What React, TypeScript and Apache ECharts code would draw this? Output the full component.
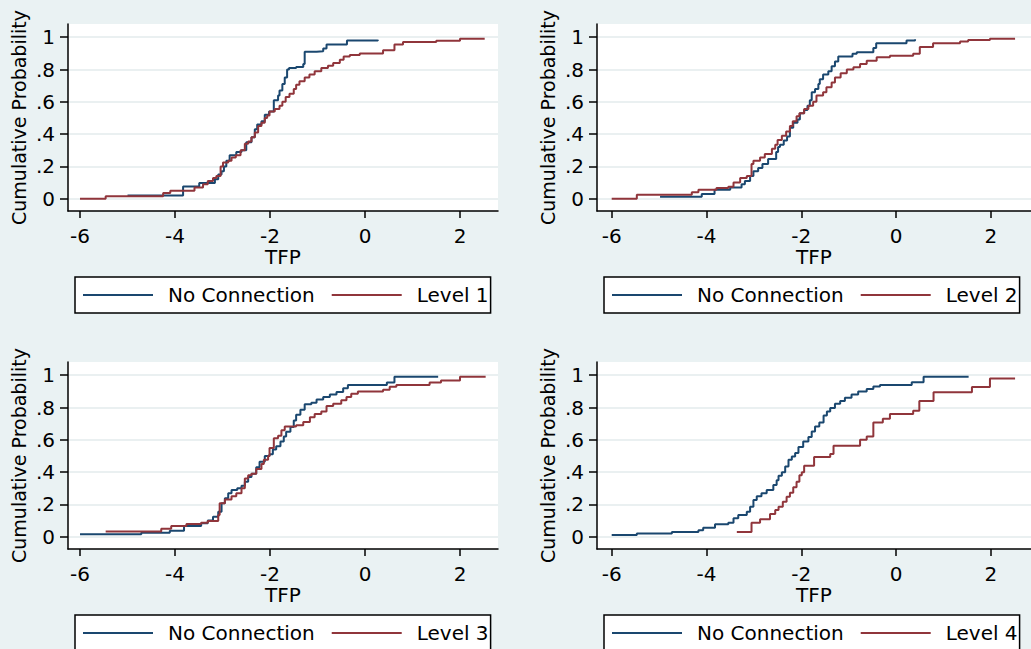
import React, { useEffect, useRef } from "react";
import * as echarts from "echarts";

// ---- data ----
const xTickValues = [-6, -4, -2, 0, 2];
const yTickValues = [0, 0.2, 0.4, 0.6, 0.8, 1];
const yTickLabels = ["0", ".2", ".4", ".6", ".8", "1"];
const baseName = "No Connection";
const levelNames = ["Level 1", "Level 2", "Level 3", "Level 4"];

// step points: [TFP where the CDF jumps, new cumulative probability]
const p1NoConnection = [
  [-5.0, 0.02], [-3.83, 0.076], [-3.49, 0.097], [-3.16, 0.12], [-3.09, 0.15], [-3.02, 0.17],
  [-2.97, 0.2], [-2.92, 0.235], [-2.85, 0.27], [-2.71, 0.29], [-2.6, 0.3], [-2.5, 0.35],
  [-2.39, 0.38], [-2.32, 0.43], [-2.27, 0.46], [-2.18, 0.48], [-2.11, 0.52], [-2.02, 0.54],
  [-1.92, 0.61], [-1.83, 0.64], [-1.8, 0.67], [-1.74, 0.71], [-1.69, 0.75], [-1.64, 0.8],
  [-1.6, 0.81], [-1.45, 0.815], [-1.3, 0.835], [-1.27, 0.91], [-1.02, 0.913], [-0.88, 0.93],
  [-0.81, 0.955], [-0.38, 0.98], [0.27, 0.985],
];
const p1Level = [
  [-6, 0], [-5.46, 0.015], [-4.25, 0.035], [-4.1, 0.05], [-3.59, 0.07], [-3.41, 0.09],
  [-3.31, 0.11], [-3.2, 0.128], [-3.13, 0.14], [-3.04, 0.2], [-2.99, 0.225], [-2.88, 0.235],
  [-2.81, 0.256], [-2.72, 0.27], [-2.62, 0.3], [-2.53, 0.34], [-2.46, 0.355], [-2.39, 0.38],
  [-2.32, 0.41], [-2.25, 0.45], [-2.18, 0.47], [-2.11, 0.5], [-2.06, 0.515], [-2.01, 0.54],
  [-1.9, 0.556], [-1.8, 0.576], [-1.74, 0.6], [-1.67, 0.63], [-1.59, 0.65], [-1.5, 0.68],
  [-1.45, 0.706], [-1.38, 0.727], [-1.27, 0.75], [-1.17, 0.77], [-1.06, 0.79], [-0.92, 0.81],
  [-0.78, 0.824], [-0.67, 0.84], [-0.53, 0.86], [-0.45, 0.88], [-0.32, 0.89], [-0.11, 0.9],
  [0.38, 0.92], [0.62, 0.955], [0.8, 0.97], [1.5, 0.978], [2.0, 0.99], [2.52, 0.99],
];
const p2NoConnection = [
  [-4.98, 0.012], [-4.1, 0.03], [-3.83, 0.056], [-3.5, 0.07], [-3.26, 0.09], [-3.19, 0.11],
  [-3.08, 0.14], [-3.01, 0.17], [-2.91, 0.19], [-2.82, 0.215], [-2.7, 0.246], [-2.53, 0.29],
  [-2.49, 0.32], [-2.45, 0.335], [-2.37, 0.36], [-2.3, 0.385], [-2.24, 0.44], [-2.17, 0.47],
  [-2.08, 0.49], [-2.03, 0.53], [-1.94, 0.55], [-1.87, 0.576], [-1.82, 0.61], [-1.78, 0.66],
  [-1.71, 0.68], [-1.64, 0.71], [-1.61, 0.74], [-1.54, 0.77], [-1.43, 0.79], [-1.36, 0.82],
  [-1.29, 0.85], [-1.22, 0.88], [-0.92, 0.897], [-0.83, 0.907], [-0.48, 0.934], [-0.42, 0.963],
  [0.22, 0.98], [0.4, 0.988],
];
const p2Level = [
  [-6, 0], [-5.47, 0.025], [-4.31, 0.04], [-4.17, 0.056], [-3.79, 0.066], [-3.54, 0.074],
  [-3.43, 0.1], [-3.29, 0.128], [-3.15, 0.14], [-3.05, 0.215], [-3.01, 0.235], [-2.87, 0.256],
  [-2.77, 0.277], [-2.62, 0.31], [-2.55, 0.335], [-2.5, 0.364], [-2.41, 0.39], [-2.32, 0.417],
  [-2.24, 0.45], [-2.18, 0.48], [-2.1, 0.51], [-2.04, 0.53], [-1.94, 0.556], [-1.85, 0.576],
  [-1.75, 0.6], [-1.68, 0.64], [-1.54, 0.66], [-1.47, 0.69], [-1.36, 0.72], [-1.29, 0.75],
  [-1.17, 0.777], [-1.04, 0.8], [-0.9, 0.814], [-0.76, 0.835], [-0.62, 0.855], [-0.41, 0.876],
  [-0.13, 0.886], [0.36, 0.897], [0.5, 0.94], [0.78, 0.963], [1.35, 0.973], [1.52, 0.983],
  [1.98, 0.99], [2.51, 0.99],
];
const p3NoConnection = [
  [-6, 0.015], [-4.71, 0.025], [-4.11, 0.037], [-3.81, 0.066], [-3.45, 0.083], [-3.31, 0.1],
  [-3.2, 0.124], [-3.09, 0.155], [-3.02, 0.207], [-2.95, 0.238], [-2.88, 0.27], [-2.81, 0.29],
  [-2.69, 0.3], [-2.6, 0.315], [-2.53, 0.34], [-2.46, 0.37], [-2.39, 0.39], [-2.29, 0.43],
  [-2.22, 0.465], [-2.11, 0.5], [-2.01, 0.51], [-1.94, 0.54], [-1.87, 0.56], [-1.78, 0.59],
  [-1.71, 0.62], [-1.66, 0.65], [-1.57, 0.68], [-1.5, 0.72], [-1.45, 0.755], [-1.36, 0.787],
  [-1.27, 0.82], [-1.13, 0.83], [-1.02, 0.85], [-0.88, 0.865], [-0.74, 0.88], [-0.6, 0.896],
  [-0.46, 0.92], [-0.36, 0.94], [0.46, 0.955], [0.62, 0.99], [1.54, 0.99],
];
const p3Level = [
  [-5.46, 0.033], [-4.29, 0.05], [-4.08, 0.066], [-3.76, 0.079], [-3.45, 0.087], [-3.31, 0.097],
  [-3.09, 0.135], [-3.06, 0.207], [-2.95, 0.23], [-2.81, 0.25], [-2.71, 0.27], [-2.6, 0.3],
  [-2.53, 0.36], [-2.46, 0.38], [-2.39, 0.39], [-2.29, 0.42], [-2.18, 0.45], [-2.13, 0.476],
  [-2.04, 0.5], [-2.01, 0.55], [-1.92, 0.61], [-1.83, 0.625], [-1.76, 0.66], [-1.69, 0.683],
  [-1.45, 0.69], [-1.3, 0.71], [-1.16, 0.74], [-1.06, 0.76], [-0.92, 0.776], [-0.81, 0.81],
  [-0.67, 0.824], [-0.5, 0.845], [-0.39, 0.865], [-0.29, 0.886], [-0.15, 0.9], [0.38, 0.91],
  [0.52, 0.928], [0.66, 0.94], [1.36, 0.955], [1.6, 0.967], [2.0, 0.99], [2.54, 0.99],
];
const p4NoConnection = [
  [-6, 0.01], [-5.47, 0.02], [-4.73, 0.03], [-4.17, 0.04], [-4.07, 0.056], [-3.82, 0.077],
  [-3.54, 0.087], [-3.43, 0.114], [-3.33, 0.135], [-3.15, 0.155], [-3.08, 0.186], [-3.01, 0.228],
  [-2.94, 0.25], [-2.84, 0.27], [-2.73, 0.29], [-2.59, 0.32], [-2.52, 0.35], [-2.48, 0.377],
  [-2.41, 0.4], [-2.34, 0.435], [-2.27, 0.476], [-2.2, 0.497], [-2.13, 0.518], [-2.06, 0.555],
  [-1.96, 0.59], [-1.85, 0.617], [-1.78, 0.652], [-1.71, 0.683], [-1.62, 0.708], [-1.53, 0.75],
  [-1.46, 0.776], [-1.39, 0.797], [-1.29, 0.824], [-1.18, 0.84], [-1.08, 0.86], [-0.94, 0.88],
  [-0.8, 0.9], [-0.62, 0.915], [-0.48, 0.93], [-0.34, 0.94], [0.33, 0.956], [0.58, 0.99],
  [1.53, 0.99],
];
const p4Level = [
  [-3.36, 0.03], [-3.05, 0.087], [-2.87, 0.108], [-2.66, 0.14], [-2.55, 0.166], [-2.48, 0.186],
  [-2.39, 0.217], [-2.31, 0.248], [-2.24, 0.273], [-2.17, 0.306], [-2.1, 0.34], [-2.04, 0.38],
  [-1.99, 0.4], [-1.94, 0.44], [-1.73, 0.493], [-1.39, 0.513], [-1.32, 0.563], [-0.76, 0.6],
  [-0.62, 0.62], [-0.48, 0.708], [-0.28, 0.73], [-0.13, 0.76], [0.36, 0.78], [0.49, 0.84],
  [0.79, 0.894], [1.6, 0.927], [1.98, 0.98], [2.51, 0.98],
];

const noConnectionData = [p1NoConnection, p2NoConnection, p3NoConnection, p4NoConnection];
const levelData = [p1Level, p2Level, p3Level, p4Level];

// ---- layout / style ----
const FONT = "DejaVu Sans";
const BLUE = "#1a476f";
const RED = "#90353b";
const BG = "#eaf2f3";
const GRID_COLOR = "#e3ebed";

const panels = [
  { left: 68, top: 24, width: 430, height: 187, xMin: -6.253, xMax: 2.8, legendLeft: 75, legendTop: 277 },
  { left: 597, top: 24, width: 434, height: 187, xMin: -6.31, xMax: 2.846, legendLeft: 604, legendTop: 277 },
  { left: 68, top: 362, width: 430, height: 187, xMin: -6.253, xMax: 2.8, legendLeft: 75, legendTop: 615 },
  { left: 597, top: 362, width: 434, height: 187, xMin: -6.31, xMax: 2.846, legendLeft: 604, legendTop: 615 },
];
const Y_MIN = -0.076;
const Y_MAX = 1.082;

function yLabel(v: number): string {
  for (let i = 0; i < yTickValues.length; i++) {
    if (Math.abs(yTickValues[i] - v) < 1e-6) return yTickLabels[i];
  }
  return String(v);
}

function buildOption() {
  const grid: any[] = [];
  const xAxis: any[] = [];
  const yAxis: any[] = [];
  const series: any[] = [];
  const legend: any[] = [];

  panels.forEach((p, i) => {
    grid.push({
      left: p.left,
      top: p.top,
      width: p.width,
      height: p.height,
      show: true,
      backgroundColor: "#ffffff",
      borderWidth: 0,
      containLabel: false,
    });
    xAxis.push({
      type: "value",
      gridIndex: i,
      min: p.xMin,
      max: p.xMax,
      name: "TFP",
      nameLocation: "middle",
      nameGap: 31,
      nameTextStyle: { fontFamily: FONT, fontSize: 20, color: "#000" },
      axisLine: { show: true, onZero: false, lineStyle: { color: "#000", width: 1.5 } },
      axisTick: { show: true, length: 7, customValues: xTickValues, lineStyle: { color: "#000", width: 1.5 } },
      axisLabel: {
        customValues: xTickValues,
        margin: 15,
        fontFamily: FONT,
        fontSize: 20,
        color: "#000",
        formatter: (v: number) => String(v),
      },
      splitLine: { show: false },
    });
    yAxis.push({
      type: "value",
      gridIndex: i,
      min: Y_MIN,
      max: Y_MAX,
      name: "Cumulative Probability",
      nameLocation: "middle",
      nameGap: 40,
      nameTextStyle: { fontFamily: FONT, fontSize: 19, color: "#000" },
      axisLine: { show: true, onZero: false, lineStyle: { color: "#000", width: 1.5 } },
      axisTick: { show: true, length: 8, customValues: yTickValues, lineStyle: { color: "#000", width: 1.5 } },
      axisLabel: {
        customValues: yTickValues,
        margin: 13,
        fontFamily: FONT,
        fontSize: 20,
        color: "#000",
        formatter: (v: number) => yLabel(v),
      },
      splitLine: { show: true, lineStyle: { color: GRID_COLOR, width: 1.5 } },
    });
    series.push({
      name: baseName,
      type: "line",
      step: "end",
      xAxisIndex: i,
      yAxisIndex: i,
      showSymbol: false,
      data: noConnectionData[i],
      color: BLUE,
      lineStyle: { color: BLUE, width: 2 },
      z: 2,
    });
    series.push({
      name: levelNames[i],
      type: "line",
      step: "end",
      xAxisIndex: i,
      yAxisIndex: i,
      showSymbol: false,
      data: levelData[i],
      color: RED,
      lineStyle: { color: RED, width: 2 },
      z: 3,
    });
    legend.push({
      left: p.legendLeft,
      top: p.legendTop,
      orient: "horizontal",
      data: [baseName, levelNames[i]],
      icon: "rect",
      itemWidth: 70,
      itemHeight: 2,
      itemGap: 17,
      selectedMode: false,
      backgroundColor: "#ffffff",
      borderColor: "#000",
      borderWidth: 1.5,
      borderRadius: 0,
      padding: [8, 2, 8, 8],
      textStyle: {
        fontFamily: FONT,
        fontSize: 20,
        lineHeight: 20,
        color: "#000",
        padding: [0, 0, 0, 10],
      },
    });
  });

  return {
    animation: false,
    backgroundColor: BG,
    grid,
    xAxis,
    yAxis,
    series,
    legend,
  };
}

export default function App() {
  const ref = useRef<HTMLDivElement>(null);
  useEffect(() => {
    if (!ref.current) return;
    const chart = echarts.init(ref.current, null, { renderer: "svg" });
    chart.setOption(buildOption() as any);
    return () => chart.dispose();
  }, []);
  return (
    <div
      ref={ref}
      style={{ position: "absolute", left: 0, top: 0, width: 1031, height: 649, background: BG }}
    />
  );
}
